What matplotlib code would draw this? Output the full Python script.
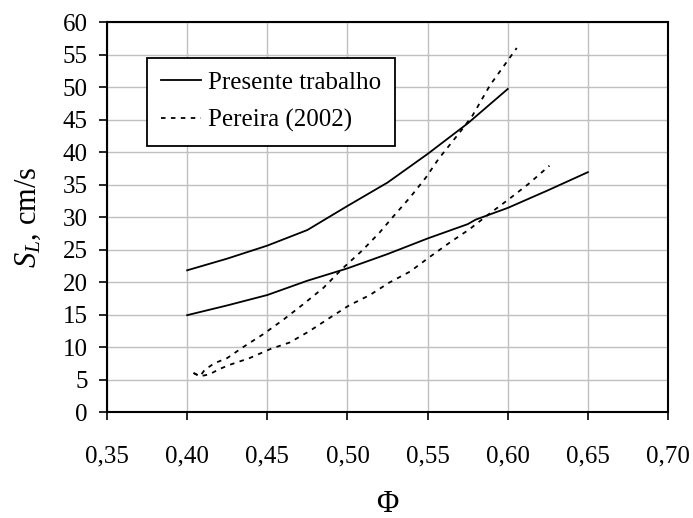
import matplotlib.pyplot as plt

plt.rcParams["font.family"] = ["Liberation Serif", "DejaVu Serif"]
plt.rcParams["mathtext.fontset"] = "custom"
plt.rcParams["mathtext.rm"] = "Liberation Serif"
plt.rcParams["mathtext.it"] = "Liberation Serif:italic"

# Presente trabalho (two curves)
phi_a = [0.400, 0.425, 0.450, 0.475, 0.500, 0.525, 0.550, 0.575, 0.600]
sl_a = [21.8, 23.6, 25.6, 28.0, 31.7, 35.3, 39.7, 44.4, 49.7]

phi_b = [0.400, 0.425, 0.450, 0.475, 0.500, 0.525, 0.550, 0.575, 0.580, 0.600, 0.625, 0.650]
sl_b = [14.9, 16.4, 18.0, 20.2, 22.1, 24.3, 26.7, 28.9, 29.6, 31.4, 34.1, 36.9]

# Pereira (2002) (two curves)
phi_c = [0.404, 0.408, 0.411, 0.417, 0.425, 0.435, 0.447, 0.460, 0.472, 0.485, 0.497,
         0.509, 0.520, 0.529, 0.539, 0.549, 0.557, 0.570, 0.578, 0.589, 0.6056]
sl_c = [6.0, 5.5, 6.5, 7.5, 8.3, 10.0, 11.9, 14.2, 16.5, 19.1, 22.1,
        24.8, 27.6, 30.2, 33.0, 36.1, 39.0, 43.0, 45.6, 50.3, 56.0]

phi_d = [0.404, 0.408, 0.414, 0.420, 0.427, 0.439, 0.452, 0.464, 0.476, 0.489, 0.501,
         0.514, 0.526, 0.539, 0.551, 0.564, 0.576, 0.588, 0.601, 0.613, 0.626]
sl_d = [6.0, 5.5, 5.8, 6.6, 7.3, 8.3, 9.7, 10.7, 12.4, 14.5, 16.4,
        18.0, 19.9, 21.6, 23.8, 26.1, 28.1, 30.4, 32.8, 35.1, 37.9]

xticks = [0.35, 0.40, 0.45, 0.50, 0.55, 0.60, 0.65, 0.70]
yticks = list(range(0, 61, 5))

fig = plt.figure(figsize=(6.93, 5.18), dpi=100)
ax = fig.add_axes([0.1544, 0.2046, 0.8096, 0.7529])

ax.plot(phi_a, sl_a, color="black", lw=1.3, label="Presente trabalho")
ax.plot(phi_b, sl_b, color="black", lw=1.3)
ax.plot(phi_c, sl_c, color="black", lw=1.3, dashes=(2.5, 3), label="Pereira (2002)")
ax.plot(phi_d, sl_d, color="black", lw=1.3, dashes=(2.5, 3))

ax.set_xlim(0.35, 0.70)
ax.set_ylim(0, 60)
ax.set_xticks(xticks)
ax.set_xticklabels([f"{v:.2f}".replace(".", ",") for v in xticks])
ax.set_yticks(yticks)
ax.tick_params(direction="out", length=6, width=1.2, labelsize=18, colors="black")
ax.tick_params(axis="x", pad=18)
ax.tick_params(axis="y", pad=8)
ax.grid(True, color="#c0c0c0", lw=1)
ax.set_axisbelow(True)
for s in ax.spines.values():
    s.set_linewidth(1.5)

ax.set_xlabel("Φ", fontsize=22, labelpad=16)
ax.set_ylabel(r"$S_L$, cm/s", fontsize=22, labelpad=14)

leg = ax.legend(loc="upper left", bbox_to_anchor=(0.071, 0.908), fontsize=18,
                frameon=True, fancybox=False, edgecolor="black", framealpha=1,
                handlelength=1.6, borderpad=0.55, labelspacing=0.6, handletextpad=0.3,
                borderaxespad=0)
leg.get_frame().set_linewidth(1.3)

plt.savefig("out.png", dpi=100)
